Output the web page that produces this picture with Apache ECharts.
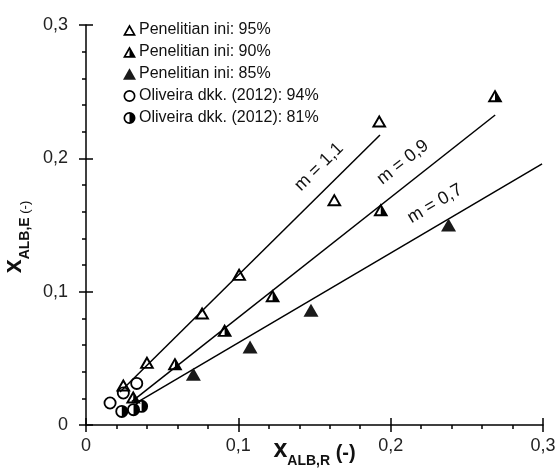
<!DOCTYPE html>
<html>
<head>
<meta charset="utf-8">
<script src="https://cdn.jsdelivr.net/npm/echarts@6/dist/echarts.min.js"></script>
<style>
html,body{margin:0;padding:0;background:#fff;}
#c{width:557px;height:476px;}
</style>
</head>
<body>
<div id="c"></div>
<script>
// ---- data ----
const seriesNames = ['Penelitian ini: 95%', 'Penelitian ini: 90%', 'Penelitian ini: 85%', 'Oliveira dkk. (2012): 94%', 'Oliveira dkk. (2012): 81%'];
const pen95 = [[0.0245, 0.030], [0.040, 0.047], [0.0762, 0.084], [0.1005, 0.113], [0.1630, 0.169], [0.1925, 0.228]];
const pen90 = [[0.031, 0.021], [0.0584, 0.046], [0.0910, 0.0710], [0.1225, 0.0970], [0.1935, 0.1615], [0.2685, 0.2470]];
const pen85 = [[0.0705, 0.0380], [0.1077, 0.0585], [0.1477, 0.0860], [0.2380, 0.1500]];
const oli94 = [[0.0158, 0.0165], [0.0245, 0.0240], [0.0333, 0.0312]];
const oli81 = [[0.0235, 0.0102], [0.0312, 0.0115], [0.0365, 0.0140]];
const fitNames = ['m = 1,1', 'm = 0,9', 'm = 0,7'];
const fitStart = [[0.0223, 0.0248], [0.0300, 0.0175], [0.0341, 0.0173]];
const fitEnd = [[0.1930, 0.2175], [0.2686, 0.2325], [0.2994, 0.1958]];

// ---- symbols ----
const SYM = {
  triOpen: 'path://M50,0 L100,87 L0,87 Z M50,26 L22.4,74 L77.6,74 Z',
  triHalf: 'path://M50,0 L100,87 L0,87 Z M50,26 L22.4,74 L50,74 Z',
  triFull: 'path://M50,0 L100,87 L0,87 Z',
  cirOpen: 'path://M50,0 A50,50 0 1,1 50,100 A50,50 0 1,1 50,0 Z M50,14 A36,36 0 1,0 50,86 A36,36 0 1,0 50,14 Z',
  cirHalf: 'path://M50,0 A50,50 0 1,1 50,100 A50,50 0 1,1 50,0 Z M50,14 A36,36 0 0,0 50,86 Z'
};
const pointSets = [pen95, pen90, pen85, oli94, oli81];
const symbols = [SYM.triOpen, SYM.triHalf, SYM.triFull, SYM.cirOpen, SYM.cirHalf];
const sizes = [[15, 13], [15, 13], [15, 13], [13, 13], [13, 13]];
const colors = ['#000', '#000', '#1a1a1a', '#000', '#000'];

const fmt = v => (v === 0 ? '0' : v.toFixed(1).replace('.', ','));
const textColor = '#111';

const series = [];
fitNames.forEach((n, i) => {
  series.push({
    name: n, type: 'line', data: [fitStart[i], fitEnd[i]],
    symbol: 'none', silent: true, z: 1,
    lineStyle: { color: '#000', width: 1.5 }
  });
});
seriesNames.forEach((n, i) => {
  series.push({
    name: n, type: 'scatter', data: pointSets[i],
    symbol: symbols[i], symbolSize: sizes[i], z: 3,
    itemStyle: { color: colors[i], borderWidth: 0, opacity: 1 }
  });
});

const baseX = { type: 'value', min: 0, max: 0.3, interval: 0.1, gridIndex: 0, position: 'bottom' };
const baseY = { type: 'value', min: 0, max: 0.3, interval: 0.1, gridIndex: 0, position: 'left' };

const option = {
  animation: false,
  backgroundColor: '#fff',
  grid: { left: 86, right: 14, top: 25, bottom: 51, containLabel: false, outerBoundsMode: 'none' },
  legend: {
    data: seriesNames.map((n, i) => ({ name: n, icon: symbols[i] })),
    orient: 'vertical', left: 118, top: 17,
    itemWidth: 13, itemHeight: 12, itemGap: 6,
    selectedMode: false,
    textStyle: { fontFamily: 'Liberation Sans', fontSize: 16, color: textColor, padding: [0, 0, 0, -2], lineHeight: 16 }
  },
  xAxis: [
    Object.assign({}, baseX, {
      name: '{b|x}{s|ALB,R}{p| (-)}',
      nameLocation: 'middle', nameGap: 12, nameMoveOverlap: false,
      nameTextStyle: {
        rich: {
          b: { fontFamily: 'Liberation Sans', fontSize: 25, fontWeight: 'bold', color: textColor, verticalAlign: 'bottom', lineHeight: 26 },
          s: { fontFamily: 'Liberation Sans', fontSize: 14, fontWeight: 'bold', color: textColor, verticalAlign: 'bottom', lineHeight: 14, padding: [0, 0, -5, 0] },
          p: { fontFamily: 'Liberation Sans', fontSize: 20, fontWeight: 'bold', color: textColor, verticalAlign: 'bottom', lineHeight: 24 }
        }
      },
      axisLine: { show: true, lineStyle: { color: '#000', width: 1.5 } },
      axisTick: { show: true, inside: false, length: 7, lineStyle: { color: '#000', width: 1.5 } },
      minorTick: { show: true, splitNumber: 5, length: 4, lineStyle: { color: '#000', width: 1.5 } },
      splitLine: { show: false },
      axisLabel: { fontFamily: 'Liberation Sans', fontSize: 18, color: '#222', margin: 12, formatter: fmt }
    }),
    Object.assign({}, baseX, {
      axisLine: { show: false },
      axisTick: { show: true, inside: true, length: 7, lineStyle: { color: '#000', width: 1.5 } },
      axisLabel: { show: false }, splitLine: { show: false }
    })
  ],
  yAxis: [
    Object.assign({}, baseY, {
      name: '{b|x}{s|ALB,E}{p| (-)}',
      nameLocation: 'middle', nameGap: 58, nameRotate: 90,
      nameTextStyle: {
        padding: [0, 24, 0, 0],
        rich: {
          b: { fontFamily: 'Liberation Sans', fontSize: 25, fontWeight: 'bold', color: textColor, verticalAlign: 'bottom', lineHeight: 26 },
          s: { fontFamily: 'Liberation Sans', fontSize: 14, fontWeight: 'bold', color: textColor, verticalAlign: 'bottom', lineHeight: 14, padding: [0, 0, -5, 0] },
          p: { fontFamily: 'Liberation Sans', fontSize: 13, color: textColor, verticalAlign: 'bottom', lineHeight: 14, padding: [0, 0, -5, 0] }
        }
      },
      axisLine: { show: true, lineStyle: { color: '#000', width: 1.5 } },
      axisTick: { show: true, inside: false, length: 7, lineStyle: { color: '#000', width: 1.5 } },
      minorTick: { show: true, splitNumber: 5, length: 4, lineStyle: { color: '#000', width: 1.5 } },
      splitLine: { show: false },
      axisLabel: { fontFamily: 'Liberation Sans', fontSize: 18, color: '#222', margin: 18, formatter: fmt }
    }),
    Object.assign({}, baseY, {
      axisLine: { show: false },
      axisTick: { show: true, inside: true, length: 7, lineStyle: { color: '#000', width: 1.5 } },
      axisLabel: { show: false }, splitLine: { show: false }
    })
  ],
  series: series
};

const chart = echarts.init(document.getElementById('c'), null, { renderer: 'canvas' });
chart.setOption(option);

// ---- fit line labels (placed along each line) ----
const labelT = [0.82, 0.78, 0.76];
const labelOffset = 20;
const graphics = fitNames.map((n, i) => {
  const p0 = chart.convertToPixel({ gridIndex: 0 }, fitStart[i]);
  const p1 = chart.convertToPixel({ gridIndex: 0 }, fitEnd[i]);
  const dx = p1[0] - p0[0], dy = p1[1] - p0[1];
  const len = Math.sqrt(dx * dx + dy * dy);
  const ux = dx / len, uy = dy / len;
  const nx = uy, ny = -ux;
  const t = labelT[i];
  const cx = p0[0] + dx * t + nx * labelOffset;
  const cy = p0[1] + dy * t + ny * labelOffset;
  const ang = Math.atan2(-dy, dx);
  return {
    type: 'text', x: cx, y: cy, rotation: ang, z: 10,
    style: { text: n, fontFamily: 'Liberation Sans', fontSize: 18, fill: textColor, align: 'center', verticalAlign: 'middle' }
  };
});
chart.setOption({ graphic: graphics });
</script>
</body>
</html>
